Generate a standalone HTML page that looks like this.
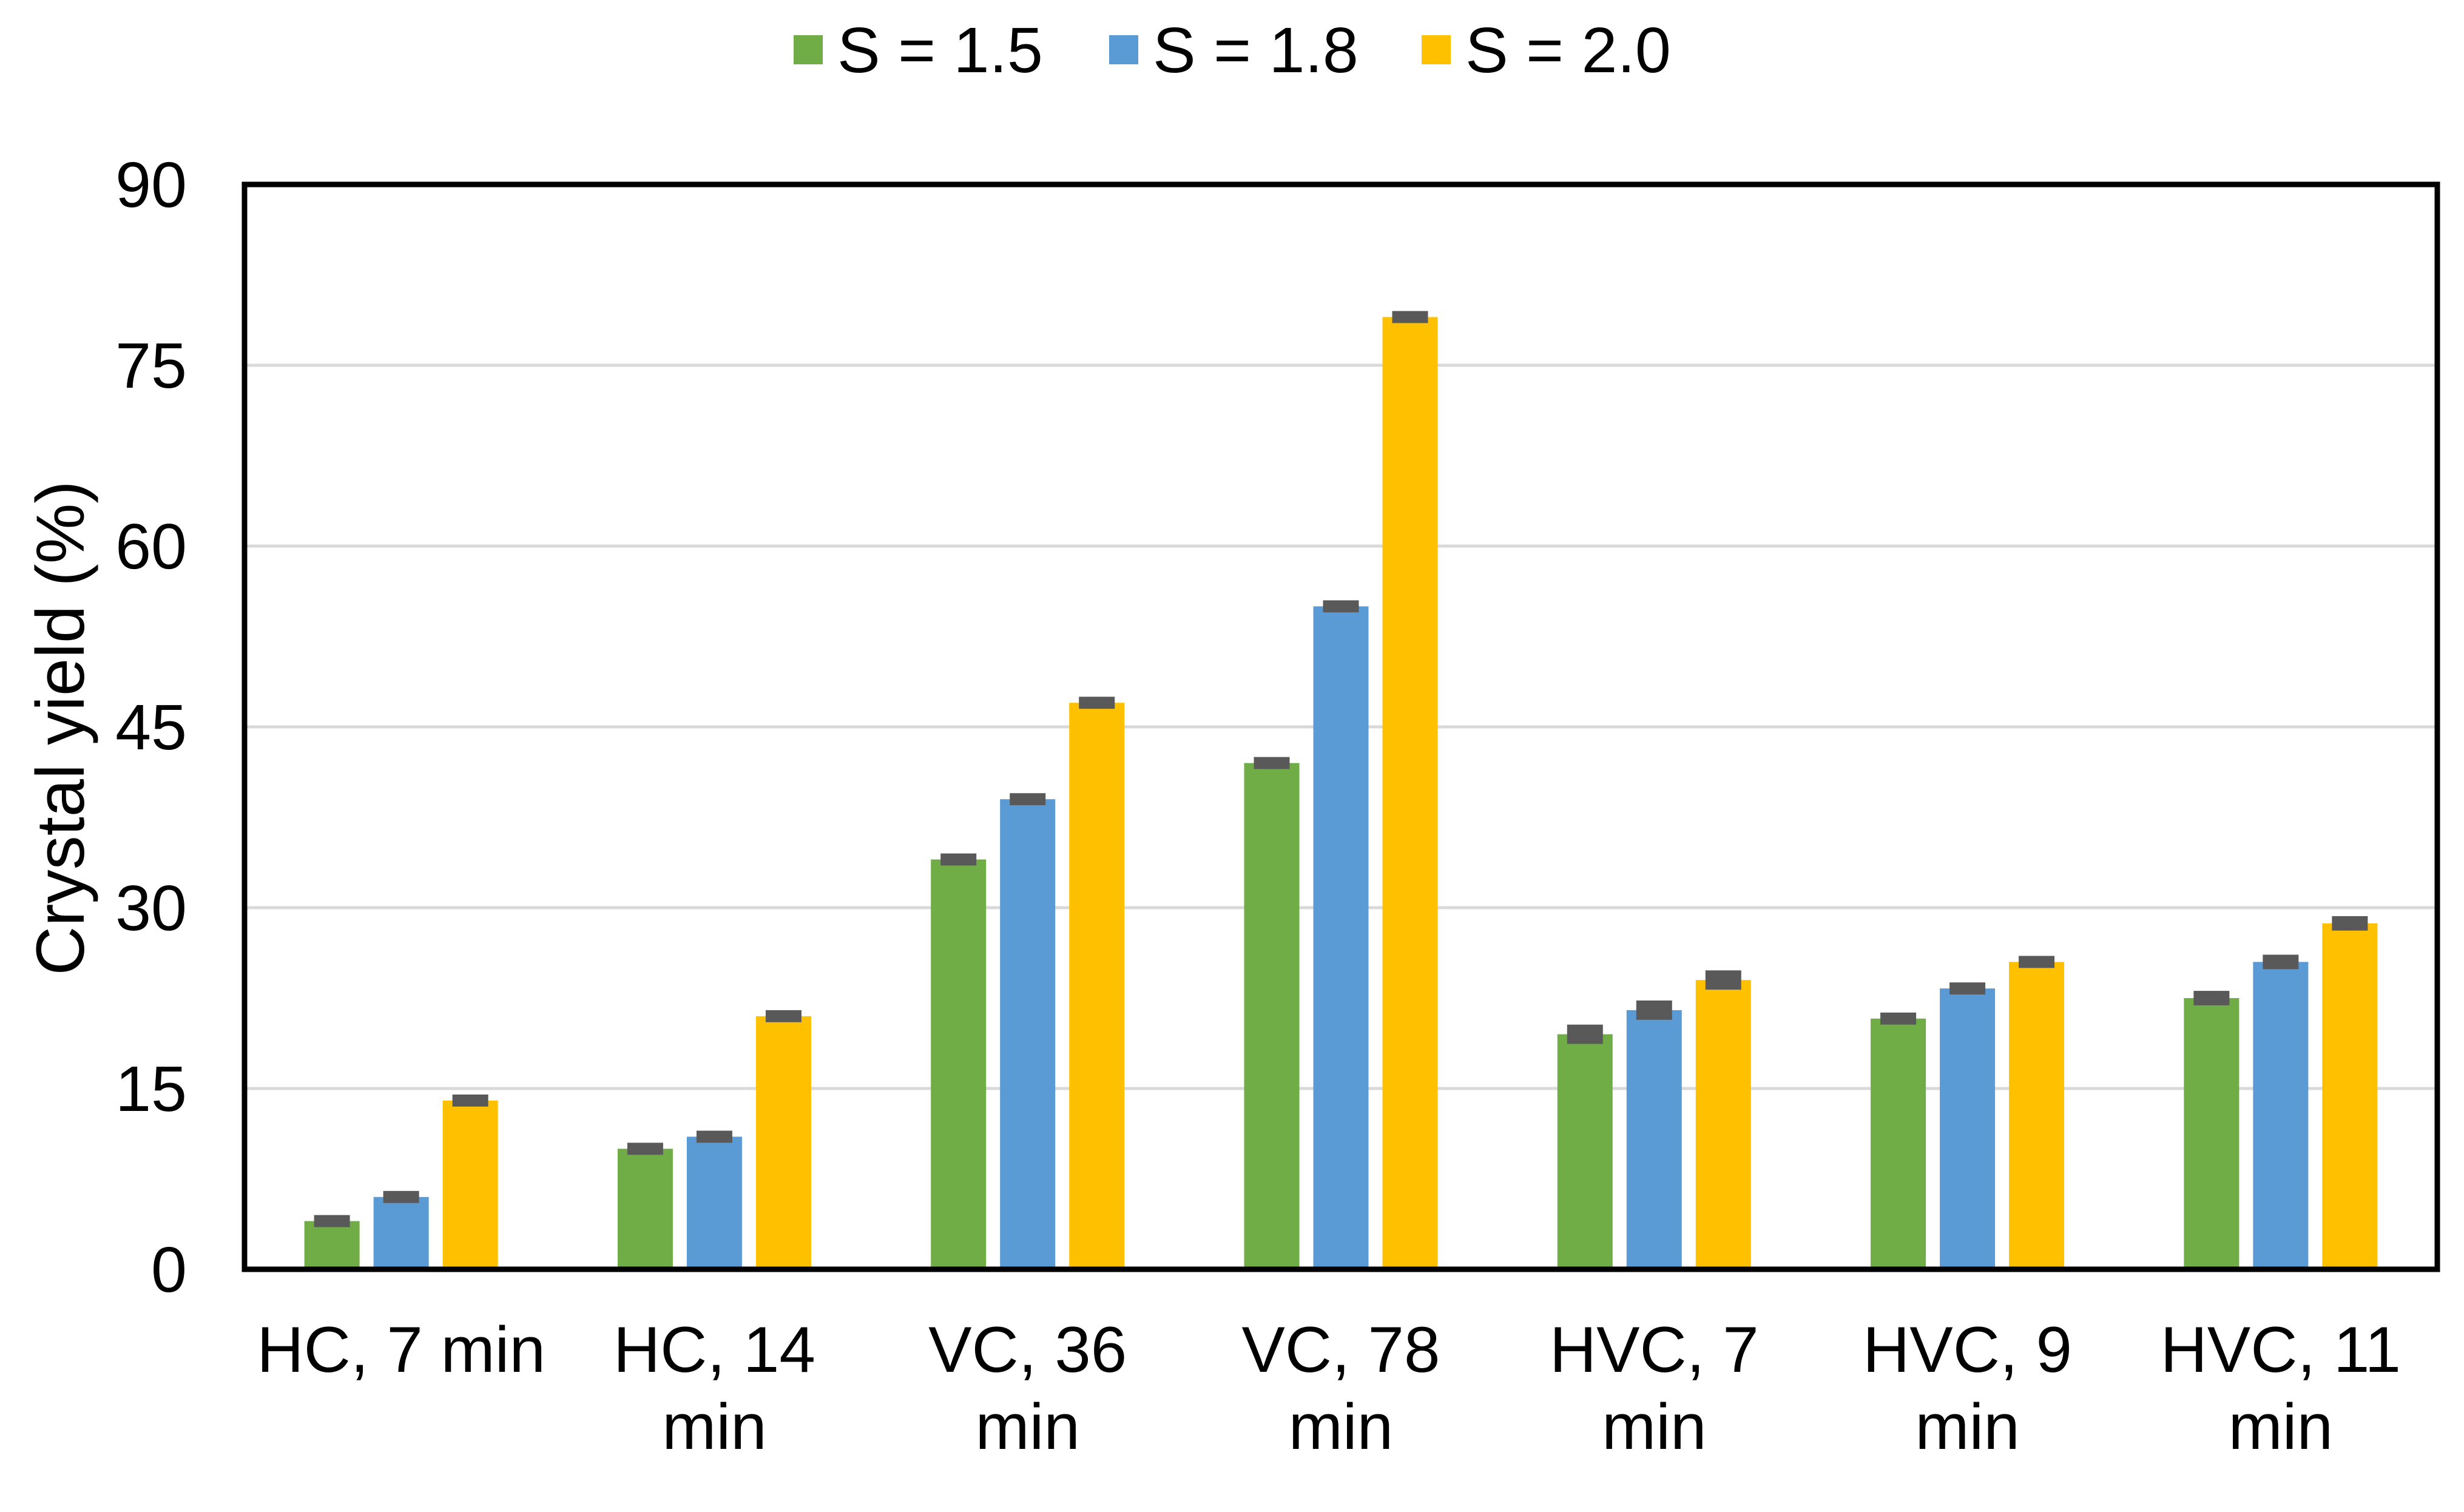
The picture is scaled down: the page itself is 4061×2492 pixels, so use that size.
<!DOCTYPE html>
<html><head><meta charset="utf-8"><style>
html,body{margin:0;padding:0;background:#fff;}
svg{display:block;font-family:"Liberation Sans",Arial,sans-serif;}
</style></head><body>
<svg id="chart" width="4061" height="2492" viewBox="0 0 4061 2492" xmlns="http://www.w3.org/2000/svg">
<rect width="4061" height="2492" fill="#fff"/>
<g id="grid"></g><g id="bars"></g><g id="axes"></g><g id="legend"></g>
</svg>
<script>
const categories1 = ["HC, 7 min","HC, 14","VC, 36","VC, 78","HVC, 7","HVC, 9","HVC, 11"];
const categories2 = ["","min","min","min","min","min","min"];
const seriesNames = ["S = 1.5","S = 1.8","S = 2.0"];
const s15 = [4, 10, 34, 42, 19.5, 20.8, 22.5];
const s18 = [6, 11, 39, 55, 21.5, 23.3, 25.5];
const s20 = [14, 21, 47, 79, 24, 25.5, 28.7];
const errs = [0.5, 0.5, 0.5, 0.5, 0.8, 0.5, 0.6];
const yTicks = [0, 15, 30, 45, 60, 75, 90];

const NS = "http://www.w3.org/2000/svg";
const L = 403, R = 4017, T = 304, B = 2092, yMax = 90;
const colors = ["#70ad47", "#5b9bd5", "#ffc000"];
const y = v => B - v / yMax * (B - T);
const groupW = (R - L) / categories1.length;
const xc = i => L + groupW * (i + 0.5);
function mk(tag, attrs, parent) {
  const e = document.createElementNS(NS, tag);
  for (const k in attrs) e.setAttribute(k, attrs[k]);
  parent.appendChild(e);
  return e;
}
const grid = document.getElementById('grid'), bars = document.getElementById('bars'),
      axes = document.getElementById('axes'), legend = document.getElementById('legend');

yTicks.forEach(t => {
  if (t > 0 && t < yMax) {
    const g = mk('line', {x1: L, x2: R, y1: y(t), y2: y(t), stroke: '#d9d9d9', 'stroke-width': 5}, grid);
    
    
  }
  const tl = mk('text', {x: 308, y: y(t) + 37, 'text-anchor': 'end', 'font-size': 106, fill: '#000'}, axes);
  tl.textContent = t;
  
  
});

const series = [s15, s18, s20];
const bw = 91, step = 114;
series.forEach((vals, si) => {
  vals.forEach((v, i) => {
    const x = xc(i) + (si - 1) * step - bw / 2;
    const r = mk('rect', {x: x, y: y(v), width: bw, height: B - y(v), fill: colors[si]}, bars);
    
    
    const e = errs[i];
    const eb = mk('rect', {x: x + 16, y: y(v + e), width: bw - 32, height: Math.max(14, y(v - e) - y(v + e)), fill: '#595959'}, bars);
    
    
  });
});

const frame = mk('rect', {x: L, y: T, width: R - L, height: B - T, fill: 'none', stroke: '#000', 'stroke-width': 9}, axes);



categories1.forEach((c, i) => {
  const t1 = mk('text', {x: xc(i), y: 2261, 'text-anchor': 'middle', 'font-size': 107, fill: '#000'}, axes);
  t1.textContent = c;
  
  
  if (categories2[i]) {
    const t2 = mk('text', {x: xc(i), y: 2388, 'text-anchor': 'middle', 'font-size': 107, fill: '#000'}, axes);
    t2.textContent = categories2[i];
    
    
  }
});

const yt = mk('text', {x: 0, y: 0, transform: 'translate(138,1200) rotate(-90)', 'text-anchor': 'middle', 'font-size': 112, fill: '#000'}, axes);
yt.textContent = 'Crystal yield (%)';



const legX = [1308, 1828, 2343];
seriesNames.forEach((n, si) => {
  const sw = mk('rect', {x: legX[si], y: 58, width: 48, height: 48, fill: colors[si]}, legend);
  
  
  const lt = mk('text', {x: legX[si] + 72, y: 119, 'font-size': 106, fill: '#000'}, legend);
  lt.textContent = n;
  
  
});
</script>
</body></html>
